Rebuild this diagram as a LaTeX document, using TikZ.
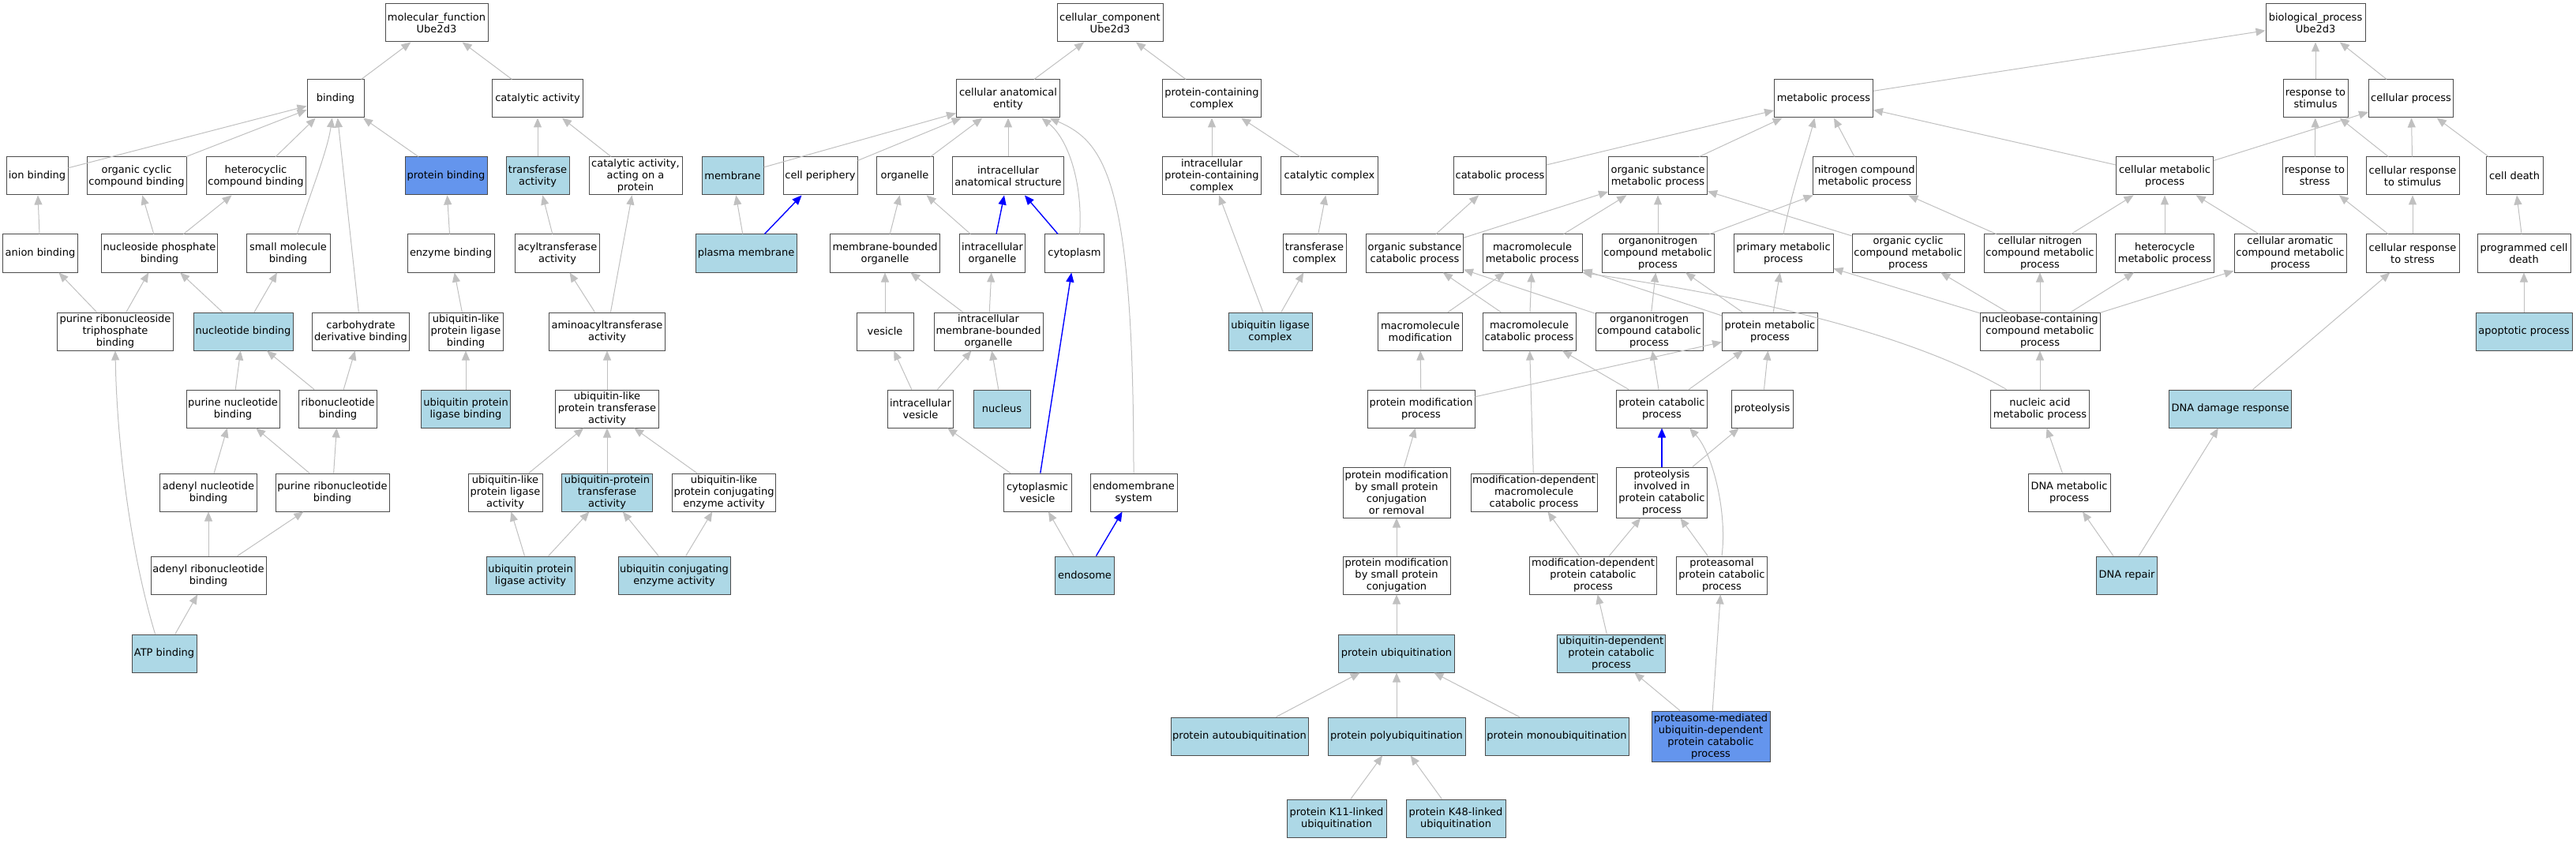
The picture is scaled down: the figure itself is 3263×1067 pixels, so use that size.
\documentclass[tikz,border=0pt]{standalone}
\usepackage{fontspec}
\setmainfont{DejaVu Sans}
\usepackage{xcolor}
\usetikzlibrary{arrows.meta}
\definecolor{hitblue}{HTML}{ADD8E6}
\definecolor{seedblue}{HTML}{6495ED}
\definecolor{edgegray}{HTML}{C0C0C0}

\begin{document}
\begin{tikzpicture}[x=1pt,y=-1pt,
		term/.style={rectangle,draw=black!70,line width=1pt,fill=white,align=center,
			font=\fontsize{13pt}{15pt}\selectfont,inner xsep=2pt,inner ysep=1pt,minimum height=48pt},
		hit/.style={term,fill=hitblue},
		seed/.style={term,fill=seedblue},
		isa/.style={draw=edgegray,line width=1pt,-{Triangle[length=12pt,width=10pt]}},
		partof/.style={draw=blue,line width=1.4pt,-{Triangle[length=12pt,width=10pt]}}]
		\useasboundingbox (0,0) rectangle (3263,1067);
		% molecular function
		\node[term,minimum width=130pt](mf) at (553,29){molecular\_function\\Ube2d3};
		\node[term,minimum width=72pt](bind) at (425,125){binding};
		\node[term,minimum width=115pt](cat) at (681,125){catalytic activity};
		\node[term,minimum width=78pt](ionb) at (47,223){ion binding};
		\node[term,minimum width=126pt](occb) at (173,223){organic cyclic\\compound binding};
		\node[term,minimum width=126pt](hcb) at (324,223){heterocyclic\\compound binding};
		\node[seed,minimum width=104pt](protb) at (565,223){protein binding};
		\node[hit,minimum width=80pt](trans) at (681,223){transferase\\activity};
		\node[term,minimum width=118pt](catprot) at (805,223){catalytic activity,\\acting on a\\protein};
		\node[term,minimum width=95pt](anion) at (51,321){anion binding};
		\node[term,minimum width=147pt](npb) at (202,321){nucleoside phosphate\\binding};
		\node[term,minimum width=106pt](smb) at (365,321){small molecule\\binding};
		\node[term,minimum width=110pt](enzb) at (571,321){enzyme binding};
		\node[term,minimum width=107pt](acyl) at (706,321){acyltransferase\\activity};
		\node[term,minimum width=147pt](prtb) at (146,420){purine ribonucleoside\\triphosphate\\binding};
		\node[hit,minimum width=126pt](ntb) at (308,420){nucleotide binding};
		\node[term,minimum width=123pt](cdb) at (457,420){carbohydrate\\derivative binding};
		\node[term,minimum width=94pt](ulplb) at (590,420){ubiquitin-like\\protein ligase\\binding};
		\node[term,minimum width=147pt](aminoacyl) at (769,420){aminoacyltransferase\\activity};
		\node[term,minimum width=118pt](pnb) at (295,518){purine nucleotide\\binding};
		\node[term,minimum width=99pt](rnb) at (428,518){ribonucleotide\\binding};
		\node[hit,minimum width=113pt](uplb) at (590,518){ubiquitin protein\\ligase binding};
		\node[term,minimum width=131pt](ulpta) at (769,518){ubiquitin-like\\protein transferase\\activity};
		\node[term,minimum width=123pt](anb) at (264,624){adenyl nucleotide\\binding};
		\node[term,minimum width=144pt](prnb) at (421,624){purine ribonucleotide\\binding};
		\node[term,minimum width=94pt](ulpla) at (640,624){ubiquitin-like\\protein ligase\\activity};
		\node[hit,minimum width=115pt](upta) at (769,624){ubiquitin-protein\\transferase\\activity};
		\node[term,minimum width=131pt](ulpcea) at (917,624){ubiquitin-like\\protein conjugating\\enzyme activity};
		\node[term,minimum width=146pt](arnb) at (264,729){adenyl ribonucleotide\\binding};
		\node[hit,minimum width=112pt](upla) at (672,729){ubiquitin protein\\ligase activity};
		\node[hit,minimum width=142pt](ucea) at (854,729){ubiquitin conjugating\\enzyme activity};
		\node[hit,minimum width=82pt](atp) at (208,828){ATP binding};
		% cellular component
		\node[term,minimum width=134pt](cc) at (1406,29){cellular\_component\\Ube2d3};
		\node[term,minimum width=131pt](cae) at (1277,125){cellular anatomical\\entity};
		\node[term,minimum width=125pt](pcc) at (1535,125){protein-containing\\complex};
		\node[hit,minimum width=78pt](membr) at (928,223){membrane};
		\node[term,minimum width=94pt](cper) at (1039,223){cell periphery};
		\node[term,minimum width=72pt](orgnl) at (1146,223){organelle};
		\node[term,minimum width=141pt](ias) at (1277,223){intracellular\\anatomical structure};
		\node[term,minimum width=125pt](ipcc) at (1535,223){intracellular\\protein-containing\\complex};
		\node[term,minimum width=123pt](catcx) at (1684,223){catalytic complex};
		\node[hit,minimum width=128pt](pm) at (945,321){plasma membrane};
		\node[term,minimum width=139pt](mbo) at (1121,321){membrane-bounded\\organelle};
		\node[term,minimum width=83pt](io) at (1257,321){intracellular\\organelle};
		\node[term,minimum width=75pt](cyto) at (1361,321){cytoplasm};
		\node[term,minimum width=80pt](trcx) at (1665,321){transferase\\complex};
		\node[term,minimum width=72pt](vesicle) at (1121,420){vesicle};
		\node[term,minimum width=138pt](imbo) at (1252,420){intracellular\\membrane-bounded\\organelle};
		\node[hit,minimum width=106pt](ulc) at (1609,420){ubiquitin ligase\\complex};
		\node[term,minimum width=83pt](iv) at (1166,518){intracellular\\vesicle};
		\node[hit,minimum width=72pt](nucl) at (1269,518){nucleus};
		\node[term,minimum width=86pt](cv) at (1314,624){cytoplasmic\\vesicle};
		\node[term,minimum width=110pt](ems) at (1436,624){endomembrane\\system};
		\node[hit,minimum width=75pt](endo) at (1374,729){endosome};
		% biological process
		\node[term,minimum width=126pt](bp) at (2933,29){biological\_process\\Ube2d3};
		\node[term,minimum width=125pt](metab) at (2310,125){metabolic process};
		\node[term,minimum width=82pt](rstim) at (2933,125){response to\\stimulus};
		\node[term,minimum width=107pt](cellp) at (3054,125){cellular process};
		\node[term,minimum width=117pt](catab) at (1900,223){catabolic process};
		\node[term,minimum width=125pt](osmp) at (2100,223){organic substance\\metabolic process};
		\node[term,minimum width=131pt](ncmp) at (2362,223){nitrogen compound\\metabolic process};
		\node[term,minimum width=123pt](cmp) at (2742,223){cellular metabolic\\process};
		\node[term,minimum width=82pt](rstress) at (2932,223){response to\\stress};
		\node[term,minimum width=118pt](crstim) at (3056,223){cellular response\\to stimulus};
		\node[term,minimum width=72pt](cdeath) at (3185,223){cell death};
		\node[term,minimum width=123pt](oscp) at (1792,321){organic substance\\catabolic process};
		\node[term,minimum width=126pt](mmp) at (1941,321){macromolecule\\metabolic process};
		\node[term,minimum width=142pt](oncmp) at (2100,321){organonitrogen\\compound metabolic\\process};
		\node[term,minimum width=126pt](primp) at (2259,321){primary metabolic\\process};
		\node[term,minimum width=142pt](occmp) at (2417,321){organic cyclic\\compound metabolic\\process};
		\node[term,minimum width=142pt](cncmp) at (2584,321){cellular nitrogen\\compound metabolic\\process};
		\node[term,minimum width=125pt](hmp) at (2742,321){heterocycle\\metabolic process};
		\node[term,minimum width=142pt](cacmp) at (2901,321){cellular aromatic\\compound metabolic\\process};
		\node[term,minimum width=118pt](crstress) at (3056,321){cellular response\\to stress};
		\node[term,minimum width=118pt](pcd) at (3197,321){programmed cell\\death};
		\node[term,minimum width=107pt](mmod) at (1799,420){macromolecule\\modification};
		\node[term,minimum width=118pt](mcp) at (1937,420){macromolecule\\catabolic process};
		\node[term,minimum width=136pt](onccp) at (2089,420){organonitrogen\\compound catabolic\\process};
		\node[term,minimum width=121pt](protmp) at (2242,420){protein metabolic\\process};
		\node[term,minimum width=152pt](nbcmp) at (2584,420){nucleobase-containing\\compound metabolic\\process};
		\node[hit,minimum width=122pt](apop) at (3197,420){apoptotic process};
		\node[term,minimum width=136pt](pmodp) at (1800,518){protein modification\\process};
		\node[term,minimum width=115pt](pcatp) at (2105,518){protein catabolic\\process};
		\node[term,minimum width=78pt](proteol) at (2232,518){proteolysis};
		\node[term,minimum width=125pt](namp) at (2584,518){nucleic acid\\metabolic process};
		\node[hit,minimum width=155pt](dnadr) at (2825,518){DNA damage response};
		\node[term,minimum width=136pt,minimum height=64pt](pmscr) at (1769,624){protein modification\\by small protein\\conjugation\\or removal};
		\node[term,minimum width=160pt](mdmcp) at (1943,624){modification-dependent\\macromolecule\\catabolic process};
		\node[term,minimum width=115pt,minimum height=64pt](pipcp) at (2105,624){proteolysis\\involved in\\protein catabolic\\process};
		\node[term,minimum width=104pt](dnamp) at (2621,624){DNA metabolic\\process};
		\node[term,minimum width=136pt](pmspc) at (1769,729){protein modification\\by small protein\\conjugation};
		\node[term,minimum width=161pt](mdpcp) at (2018,729){modification-dependent\\protein catabolic\\process};
		\node[term,minimum width=115pt](ppcp) at (2181,729){proteasomal\\protein catabolic\\process};
		\node[hit,minimum width=77pt](dnarep) at (2694,729){DNA repair};
		\node[hit,minimum width=147pt](pubq) at (1769,828){protein ubiquitination};
		\node[hit,minimum width=137pt](udpcp) at (2041,828){ubiquitin-dependent\\protein catabolic\\process};
		\node[hit,minimum width=174pt](pautoubq) at (1570,933){protein autoubiquitination};
		\node[hit,minimum width=174pt](ppolyubq) at (1769,933){protein polyubiquitination};
		\node[hit,minimum width=182pt](pmonoubq) at (1972,933){protein monoubiquitination};
		\node[seed,minimum width=150pt,minimum height=64pt](pmupcp) at (2167,933){proteasome-mediated\\ubiquitin-dependent\\protein catabolic\\process};
		\node[hit,minimum width=126pt](k11) at (1693,1037){protein K11-linked\\ubiquitination};
		\node[hit,minimum width=126pt](k48) at (1844,1037){protein K48-linked\\ubiquitination};
		% molecular function edges
		\draw[isa](bind)--(mf);
		\draw[isa](cat)--(mf);
		\draw[isa](ionb)--(bind);
		\draw[isa](occb)--(bind);
		\draw[isa](hcb)--(bind);
		\draw[isa](smb.65) .. controls (395,240) and (415,190) .. (bind.-100);
		\draw[isa](cdb)--(bind);
		\draw[isa](protb)--(bind);
		\draw[isa](anion)--(ionb);
		\draw[isa](npb)--(occb);
		\draw[isa](npb)--(hcb);
		\draw[isa](prtb)--(anion);
		\draw[isa](prtb)--(npb);
		\draw[isa](ntb)--(npb);
		\draw[isa](ntb)--(smb);
		\draw[isa](pnb)--(ntb);
		\draw[isa](rnb)--(ntb);
		\draw[isa](rnb)--(cdb);
		\draw[isa](anb)--(pnb);
		\draw[isa](prnb)--(pnb);
		\draw[isa](prnb)--(rnb);
		\draw[isa](arnb)--(anb);
		\draw[isa](arnb)--(prnb);
		\draw[isa](atp)--(arnb);
		\draw[isa](atp.115) .. controls (165,700) and (148,560) .. (prtb.south);
		\draw[isa](enzb)--(protb);
		\draw[isa](ulplb)--(enzb);
		\draw[isa](uplb)--(ulplb);
		\draw[isa](trans)--(cat);
		\draw[isa](catprot)--(cat);
		\draw[isa](acyl)--(trans);
		\draw[isa](aminoacyl)--(acyl);
		\draw[isa](aminoacyl)--(catprot);
		\draw[isa](ulpta)--(aminoacyl);
		\draw[isa](ulpla)--(ulpta);
		\draw[isa](upta)--(ulpta);
		\draw[isa](ulpcea)--(ulpta);
		\draw[isa](upla)--(ulpla);
		\draw[isa](upla)--(upta);
		\draw[isa](ucea)--(upta);
		\draw[isa](ucea)--(ulpcea);
		% cellular component edges
		\draw[isa](cae)--(cc);
		\draw[isa](pcc)--(cc);
		\draw[isa](membr)--(cae);
		\draw[isa](cper)--(cae);
		\draw[isa](orgnl)--(cae);
		\draw[isa](ias)--(cae);
		\draw[isa](cyto.75) .. controls (1372,230) and (1352,175) .. (cae.-30);
		\draw[isa](ems.north) .. controls (1436,230) and (1400,180) .. (cae.-25);
		\draw[isa](pm)--(membr);
		\draw[partof](pm)--(cper);
		\draw[isa](mbo)--(orgnl);
		\draw[isa](io)--(orgnl);
		\draw[partof](io)--(ias);
		\draw[partof](cyto)--(ias);
		\draw[isa](vesicle)--(mbo);
		\draw[isa](imbo)--(mbo);
		\draw[isa](imbo)--(io);
		\draw[isa](iv)--(vesicle);
		\draw[isa](iv)--(imbo);
		\draw[isa](nucl)--(imbo);
		\draw[isa](cv)--(iv);
		\draw[partof](cv)--(cyto);
		\draw[isa](endo)--(cv);
		\draw[partof](endo)--(ems);
		\draw[isa](ipcc)--(pcc);
		\draw[isa](catcx)--(pcc);
		\draw[isa](trcx)--(catcx);
		\draw[isa](ulc)--(ipcc);
		\draw[isa](ulc)--(trcx);
		% biological process edges
		\draw[isa](metab)--(bp);
		\draw[isa](rstim)--(bp);
		\draw[isa](cellp)--(bp);
		\draw[isa](catab)--(metab);
		\draw[isa](osmp)--(metab);
		\draw[isa](primp.north) .. controls (2270,240) and (2288,190) .. (metab.-115);
		\draw[isa](ncmp)--(metab);
		\draw[isa](cmp)--(metab);
		\draw[isa](cmp)--(cellp);
		\draw[isa](rstress)--(rstim);
		\draw[isa](crstim)--(rstim);
		\draw[isa](crstim)--(cellp);
		\draw[isa](cdeath)--(cellp);
		\draw[isa](oscp)--(catab);
		\draw[isa](oscp)--(osmp);
		\draw[isa](mmp)--(osmp);
		\draw[isa](oncmp)--(osmp);
		\draw[isa](oncmp)--(ncmp);
		\draw[isa](occmp)--(osmp);
		\draw[isa](cncmp)--(ncmp);
		\draw[isa](cncmp)--(cmp);
		\draw[isa](hmp)--(cmp);
		\draw[isa](cacmp)--(cmp);
		\draw[isa](crstress)--(rstress);
		\draw[isa](crstress)--(crstim);
		\draw[isa](pcd)--(cdeath);
		\draw[isa](mmod)--(mmp);
		\draw[isa](mcp)--(oscp);
		\draw[isa](mcp)--(mmp);
		\draw[isa](onccp)--(oscp);
		\draw[isa](onccp)--(oncmp);
		\draw[isa](protmp)--(mmp);
		\draw[isa](protmp)--(oncmp);
		\draw[isa](protmp)--(primp);
		\draw[isa](nbcmp)--(primp);
		\draw[isa](nbcmp)--(occmp);
		\draw[isa](nbcmp)--(cncmp);
		\draw[isa](nbcmp)--(hmp);
		\draw[isa](nbcmp)--(cacmp);
		\draw[isa](apop)--(pcd);
		\draw[isa](pmodp)--(mmod);
		\draw[isa](pmodp)--(protmp);
		\draw[isa](pcatp)--(mcp);
		\draw[isa](pcatp)--(onccp);
		\draw[isa](pcatp)--(protmp);
		\draw[isa](proteol)--(protmp);
		\draw[isa](namp)--(nbcmp);
		\draw[isa](namp.150) .. controls (2380,400) and (2100,360) .. (mmp.south east);
		\draw[isa](dnadr)--(crstress);
		\draw[isa](pmscr)--(pmodp);
		\draw[isa](mdmcp)--(mcp);
		\draw[isa](pipcp)--(proteol);
		\draw[partof](pipcp)--(pcatp);
		\draw[isa](dnamp)--(namp);
		\draw[isa](pmspc)--(pmscr);
		\draw[isa](mdpcp)--(mdmcp);
		\draw[isa](mdpcp)--(pipcp);
		\draw[isa](ppcp)--(pipcp);
		\draw[isa](ppcp.north) .. controls (2188,650) and (2170,575) .. (pcatp.-35);
		\draw[isa](dnarep)--(dnamp);
		\draw[isa](dnarep)--(dnadr);
		\draw[isa](pubq)--(pmspc);
		\draw[isa](udpcp)--(mdpcp);
		\draw[isa](pautoubq)--(pubq);
		\draw[isa](ppolyubq)--(pubq);
		\draw[isa](pmonoubq)--(pubq);
		\draw[isa](pmupcp)--(udpcp);
		\draw[isa](pmupcp)--(ppcp);
		\draw[isa](k11)--(ppolyubq);
		\draw[isa](k48)--(ppolyubq);
		\end{tikzpicture}
\end{document}
